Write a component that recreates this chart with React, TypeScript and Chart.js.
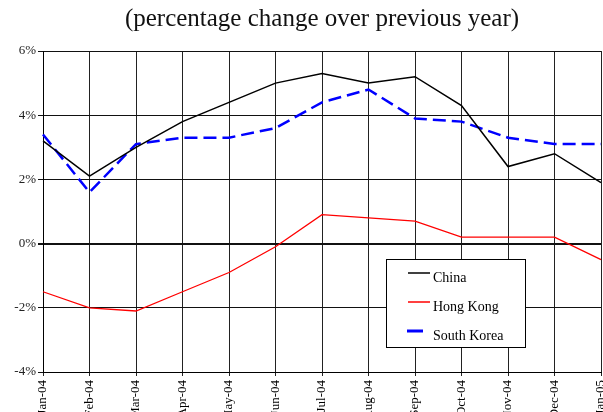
import React, { useEffect, useRef } from "react";
import { Chart, registerables } from "chart.js";

Chart.register(...registerables);

const categories = [
  "Jan-04", "Feb-04", "Mar-04", "Apr-04", "May-04", "Jun-04", "Jul-04",
  "Aug-04", "Sep-04", "Oct-04", "Nov-04", "Dec-04", "Jan-05",
];
const china = [3.2, 2.1, 3.0, 3.8, 4.4, 5.0, 5.3, 5.0, 5.2, 4.3, 2.4, 2.8, 1.9];
const hongKong = [-1.5, -2.0, -2.1, -1.5, -0.9, -0.1, 0.9, 0.8, 0.7, 0.2, 0.2, 0.2, -0.5];
const southKorea = [3.4, 1.6, 3.1, 3.3, 3.3, 3.6, 4.4, 4.8, 3.9, 3.8, 3.3, 3.1, 3.1];
const yTicks = [-4, -2, 0, 2, 4, 6];
const titleText = "(percentage change over previous year)";

const SERIF = "'Liberation Serif', 'Times New Roman', serif";

const overlayPlugin = {
  id: "overlay",
  afterDraw(chart: any) {
    const ctx = chart.ctx;
    const a = chart.chartArea;
    ctx.save();
    // title
    ctx.fillStyle = "#111";
    ctx.font = `25px ${SERIF}`;
    ctx.textAlign = "center";
    ctx.textBaseline = "middle";
    ctx.fillText(titleText, (a.left + a.right) / 2, 19);

    // legend box
    const bx = a.left + 343;
    const by = a.top + 208;
    const bw = 139;
    const bh = 88;
    ctx.fillStyle = "#fff";
    ctx.fillRect(bx, by, bw, bh);
    ctx.strokeStyle = "#000";
    ctx.lineWidth = 1;
    ctx.strokeRect(bx + 0.5, by + 0.5, bw, bh);

    const items = [
      { label: "China", color: "#000", w: 1.5, x0: 22, x1: 44, y: 14 },
      { label: "Hong Kong", color: "#ff0000", w: 1.5, x0: 22, x1: 44, y: 43 },
      { label: "South Korea", color: "#0000ff", w: 3, x0: 21, x1: 37, y: 72 },
    ];
    ctx.font = `14px ${SERIF}`;
    ctx.textAlign = "left";
    ctx.textBaseline = "middle";
    for (const it of items) {
      ctx.strokeStyle = it.color;
      ctx.lineWidth = it.w;
      ctx.beginPath();
      ctx.moveTo(bx + it.x0, by + it.y);
      ctx.lineTo(bx + it.x1, by + it.y);
      ctx.stroke();
      ctx.fillStyle = "#000";
      ctx.fillText(it.label, bx + 47, by + it.y + 5);
    }
    ctx.restore();
  },
};

export default function App() {
  const ref = useRef<HTMLCanvasElement>(null);
  useEffect(() => {
    document.body.style.margin = "0";
    const chart = new Chart(ref.current as HTMLCanvasElement, {
      type: "line",
      data: {
        labels: categories,
        datasets: [
          {
            label: "China",
            data: china,
            borderColor: "#000",
            borderWidth: 1.5,
            pointRadius: 0,
            tension: 0,
          },
          {
            label: "Hong Kong",
            data: hongKong,
            borderColor: "#ff0000",
            borderWidth: 1.3,
            pointRadius: 0,
            tension: 0,
          },
          {
            label: "South Korea",
            data: southKorea,
            borderColor: "#0000ff",
            borderWidth: 2.5,
            borderDash: [13, 6],
            pointRadius: 0,
            tension: 0,
          },
        ],
      },
      options: {
        animation: false,
        responsive: false,
        layout: { padding: { top: 51, right: 2, left: 0, bottom: 0 } },
        plugins: {
          legend: { display: false },
          title: { display: false },
          tooltip: { enabled: false },
        },
        scales: {
          x: {
            offset: false,
            grid: { color: "#222", lineWidth: 1, tickLength: 4 },
            border: { color: "#000" },
            ticks: {
              autoSkip: false,
              minRotation: 90,
              maxRotation: 90,
              padding: 4,
              color: "#000",
              font: { family: SERIF, size: 13 },
            },
            afterFit(scale: any) {
              scale.height = 40;
              scale.paddingLeft = 0;
              scale.paddingRight = 0;
            },
          },
          y: {
            min: -4,
            max: 6,
            afterBuildTicks(scale: any) {
              scale.ticks = yTicks.map((v) => ({ value: v }));
            },
            grid: {
              color: "#111",
              lineWidth: (c: any) => (c.tick && c.tick.value === 0 ? 2 : 1),
              tickLength: 5,
            },
            border: { color: "#000" },
            ticks: {
              padding: 2,
              color: "#222",
              font: { family: SERIF, size: 13 },
              callback: (v: any) => `${v}%`,
            },
            afterFit(scale: any) {
              scale.width = 43;
            },
          },
        },
      },
      plugins: [overlayPlugin],
    });
    return () => chart.destroy();
  }, []);
  return (
    <div style={{ width: 603, height: 412, overflow: "hidden" }}>
      <canvas ref={ref} width={603} height={412} />
    </div>
  );
}
